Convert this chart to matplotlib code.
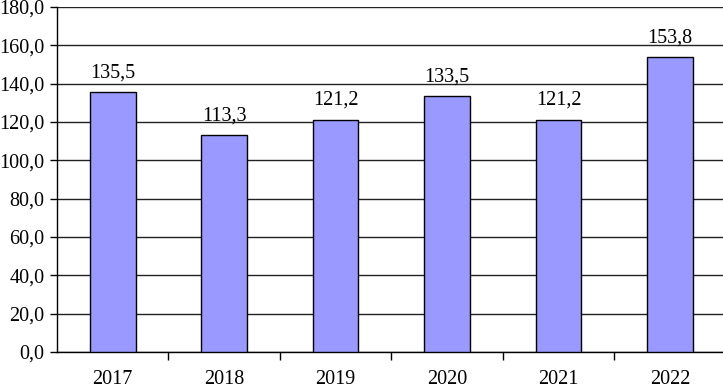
import matplotlib.pyplot as plt
import numpy as np

years = ['2017', '2018', '2019', '2020', '2021', '2022']
values = [135.5, 113.3, 121.2, 133.5, 121.2, 153.8]
yticks = [0, 20, 40, 60, 80, 100, 120, 140, 160, 180]

plt.rcParams['font.family'] = ['Liberation Serif', 'DejaVu Serif']

fig = plt.figure(figsize=(7.23, 3.9), dpi=100)
ax = fig.add_axes([0.0788, 0.0974, 0.925, 0.885])

x = np.arange(len(years))
ax.bar(x, values, width=0.41, color='#9999FF', edgecolor='black', linewidth=1, zorder=3)

for xi, v in zip(x, values):
    ax.text(xi, v + 5, f'{v:.1f}'.replace('.', ','), ha='center', va='bottom', fontsize=14.5)

ax.set_xlim(-0.5, len(years) - 0.5)
ax.set_ylim(0, 180)
ax.set_yticks(yticks)
ax.set_yticklabels([f'{t:.1f}'.replace('.', ',') for t in yticks], fontsize=14.5)
ax.yaxis.grid(True, color='#222222', linewidth=1, zorder=0)

ax.set_xticks(x)
ax.set_xticklabels(years, fontsize=14.5)
ax.tick_params(axis='x', which='major', length=0, pad=13)
ax.set_xticks(np.arange(0.5, len(years) - 1, 1), minor=True)
ax.tick_params(axis='x', which='minor', length=6, width=1, direction='out')
ax.tick_params(axis='y', length=5, width=1, direction='out', pad=4)

for s in ['top', 'right']:
    ax.spines[s].set_visible(False)
ax.spines['left'].set_linewidth(1)
ax.spines['bottom'].set_linewidth(1)

plt.savefig('out.png', dpi=100)
plt.close()
